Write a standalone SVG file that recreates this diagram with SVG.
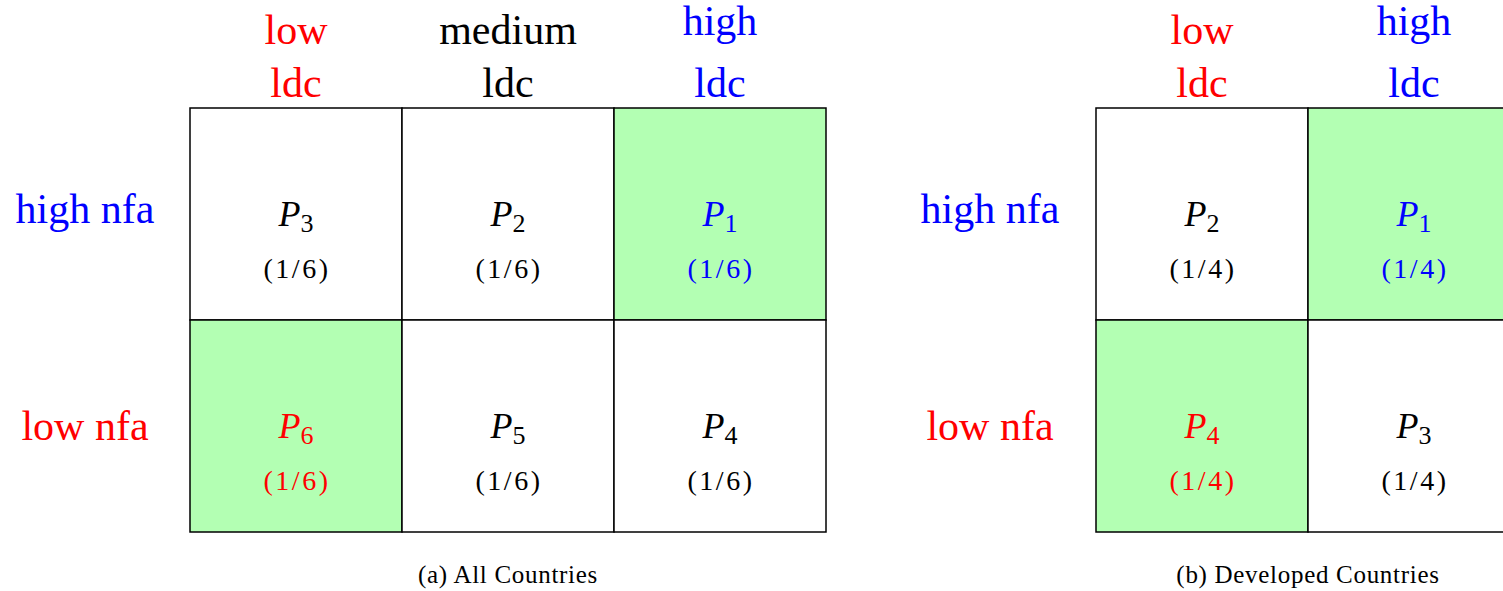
<svg xmlns="http://www.w3.org/2000/svg" width="1503" height="591" viewBox="0 0 1503 591" font-family="'Liberation Serif', 'DejaVu Serif', serif">
<style>
text{font-family:'Liberation Serif','DejaVu Serif',serif;text-anchor:middle}
.hd{font-size:42px}
.p{font-size:36px;font-style:italic}
.sub{font-size:26px;font-style:normal}
.fr{font-size:28px;letter-spacing:2.5px}
.cap{font-size:25px;letter-spacing:0.7px}
.r{fill:#ff0000}.b{fill:#0000ff}.k{fill:#000}
.cell{stroke:#000;stroke-width:1.5}
.w{fill:#fff}.g{fill:#b3ffb3}
</style>
<rect width="1503" height="591" fill="#fff"/>
<g id="panel-a">
<g id="headers-a">
<text class="hd r" x="296" y="44">low</text>
<text class="hd r" x="296" y="97">ldc</text>
<text class="hd k" x="508" y="44">medium</text>
<text class="hd k" x="508" y="97">ldc</text>
<text class="hd b" x="720" y="35">high</text>
<text class="hd b" x="720" y="97">ldc</text>
<text class="hd b" x="85" y="223">high nfa</text>
<text class="hd r" x="85" y="440">low nfa</text>
</g>
<g id="a-P3"><rect class="cell w" x="190" y="108" width="212" height="212"/><text class="p k" x="296" y="226">P<tspan class="sub" dy="6">3</tspan></text><text class="fr k" x="297" y="278">(1/6)</text></g>
<g id="a-P2"><rect class="cell w" x="402" y="108" width="212" height="212"/><text class="p k" x="508" y="226">P<tspan class="sub" dy="6">2</tspan></text><text class="fr k" x="509" y="278">(1/6)</text></g>
<g id="a-P1"><rect class="cell g" x="614" y="108" width="212" height="212"/><text class="p b" x="720" y="226">P<tspan class="sub" dy="6">1</tspan></text><text class="fr b" x="721" y="278">(1/6)</text></g>
<g id="a-P6"><rect class="cell g" x="190" y="320" width="212" height="212"/><text class="p r" x="296" y="438">P<tspan class="sub" dy="6">6</tspan></text><text class="fr r" x="297" y="490">(1/6)</text></g>
<g id="a-P5"><rect class="cell w" x="402" y="320" width="212" height="212"/><text class="p k" x="508" y="438">P<tspan class="sub" dy="6">5</tspan></text><text class="fr k" x="509" y="490">(1/6)</text></g>
<g id="a-P4"><rect class="cell w" x="614" y="320" width="212" height="212"/><text class="p k" x="720" y="438">P<tspan class="sub" dy="6">4</tspan></text><text class="fr k" x="721" y="490">(1/6)</text></g>
<text class="cap k" x="508" y="583">(a) All Countries</text>
</g>
<g id="panel-b">
<g id="headers-b">
<text class="hd r" x="1202" y="44">low</text>
<text class="hd r" x="1202" y="97">ldc</text>
<text class="hd b" x="1414" y="35">high</text>
<text class="hd b" x="1414" y="97">ldc</text>
<text class="hd b" x="990" y="223">high nfa</text>
<text class="hd r" x="990" y="440">low nfa</text>
</g>
<g id="b-P2"><rect class="cell w" x="1096" y="108" width="212" height="212"/><text class="p k" x="1202" y="226">P<tspan class="sub" dy="6">2</tspan></text><text class="fr k" x="1203" y="278">(1/4)</text></g>
<g id="b-P1"><rect class="cell g" x="1308" y="108" width="212" height="212"/><text class="p b" x="1414" y="226">P<tspan class="sub" dy="6">1</tspan></text><text class="fr b" x="1415" y="278">(1/4)</text></g>
<g id="b-P4"><rect class="cell g" x="1096" y="320" width="212" height="212"/><text class="p r" x="1202" y="438">P<tspan class="sub" dy="6">4</tspan></text><text class="fr r" x="1203" y="490">(1/4)</text></g>
<g id="b-P3"><rect class="cell w" x="1308" y="320" width="212" height="212"/><text class="p k" x="1414" y="438">P<tspan class="sub" dy="6">3</tspan></text><text class="fr k" x="1415" y="490">(1/4)</text></g>
<text class="cap k" x="1308" y="583">(b) Developed Countries</text>
</g>
<g id="connectors"/>
</svg>
